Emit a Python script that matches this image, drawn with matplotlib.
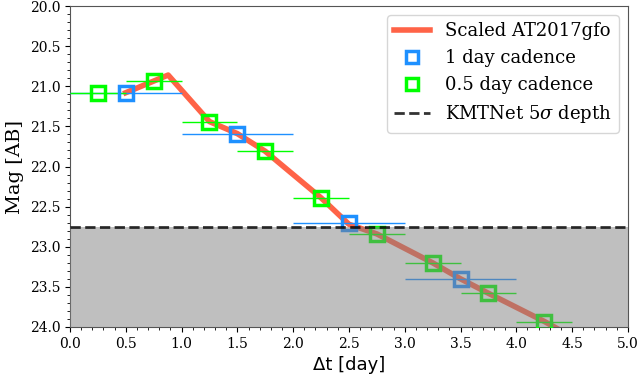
import matplotlib.pyplot as plt
from matplotlib.ticker import MultipleLocator, FormatStrFormatter

# model light curve (scaled AT2017gfo)
model_t = [0.5, 0.88, 1.25, 1.5, 1.75, 2.25, 2.5, 2.75, 3.25, 3.5, 3.75, 4.25, 4.6]
model_mag = [21.08, 20.86, 21.44, 21.59, 21.81, 22.39, 22.72, 22.84, 23.2, 23.4, 23.58, 23.93, 24.2]

# 1 day cadence
t1 = [0.5, 1.5, 2.5, 3.5, 4.5]
mag1 = [21.08, 21.59, 22.71, 23.40, 24.12]

# 0.5 day cadence
t05 = [0.25, 0.75, 1.25, 1.75, 2.25, 2.75, 3.25, 3.75, 4.25]
mag05 = [21.09, 20.93, 21.44, 21.81, 22.39, 22.84, 23.2, 23.58, 23.94]

depth = 22.75

plt.rcParams['font.family'] = 'DejaVu Serif'
plt.rcParams['mathtext.fontset'] = 'dejavuserif'

fig = plt.figure(figsize=(6.42, 3.78), dpi=100)
ax = fig.add_axes([0.109, 0.135, 0.869, 0.849])

ax.plot(model_t, model_mag, color='tomato', lw=4, label='Scaled AT2017gfo', zorder=2)

ax.errorbar(t1, mag1, xerr=0.5, fmt='none', ecolor='dodgerblue', elinewidth=1, zorder=3)
ax.plot(t1, mag1, 's', ms=10, mfc='none', mec='dodgerblue', mew=2.5, label='1 day cadence', zorder=4)

ax.errorbar(t05, mag05, xerr=0.25, fmt='none', ecolor='lime', elinewidth=1, zorder=3)
ax.plot(t05, mag05, 's', ms=10, mfc='none', mec='lime', mew=2.5, label='0.5 day cadence', zorder=4)

ax.axhspan(depth, 24.0, color='grey', alpha=0.5, lw=0, zorder=5)
ax.axhline(depth, color='k', ls='--', lw=2, alpha=0.8, label=r'KMTNet 5$\sigma$ depth', zorder=6)

ax.set_xlim(0, 5)
ax.set_ylim(24, 20)
ax.xaxis.set_major_locator(MultipleLocator(0.5))
ax.xaxis.set_minor_locator(MultipleLocator(0.1))
ax.yaxis.set_major_locator(MultipleLocator(0.5))
ax.yaxis.set_minor_locator(MultipleLocator(0.1))
ax.xaxis.set_major_formatter(FormatStrFormatter('%.1f'))
ax.yaxis.set_major_formatter(FormatStrFormatter('%.1f'))
ax.tick_params(which='both', top=False, right=False)
ax.tick_params(labelsize=10)
for s in ax.spines.values():
    s.set_color('#555555')

ax.set_xlabel('Δt [day]', family='DejaVu Sans', fontsize=13)
ax.set_ylabel('Mag [AB]', fontsize=14)

leg = ax.legend(loc='upper right', fontsize=13, markerscale=0.8)

fig.savefig('out.png', dpi=100)
